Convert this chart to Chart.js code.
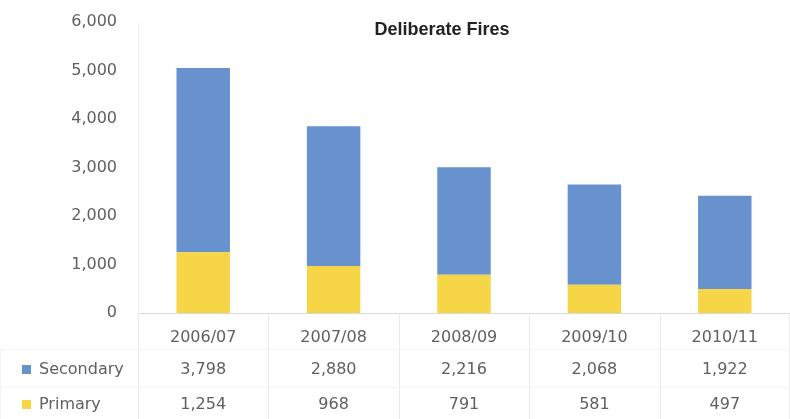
<!DOCTYPE html>
<html>
<head>
<meta charset="utf-8">
<script src="https://cdn.jsdelivr.net/npm/chart.js@4/dist/chart.umd.min.js"></script>
<style>
html,body{margin:0;padding:0;background:#fff;}
#wrap{width:790px;height:419px;position:relative;}
</style>
</head>
<body>
<div id="wrap"><canvas id="c" width="790" height="419"></canvas></div>
<script>
const categories = ["2006/07", "2007/08", "2008/09", "2009/10", "2010/11"];
const primary = [1254, 968, 791, 581, 497];
const secondary = [3798, 2880, 2216, 2068, 1922];
const seriesNames = ["Secondary", "Primary"];
const yTicks = [0, 1000, 2000, 3000, 4000, 5000, 6000];
const chartTitle = "Deliberate Fires";

const BLUE = "#6792cd";
const YELLOW = "#f6d646";
const TEXT = "#606060";
const FONT = "'DejaVu Sans', sans-serif";
const fmt = v => v.toLocaleString("en-US");

const tablePlugin = {
  id: "dataTable",
  afterDraw(chart) {
    const ctx = chart.ctx;
    const x = chart.scales.x;
    const area = chart.chartArea;
    const rowH = [349, 387];
    const half = (x.getPixelForValue(1) - x.getPixelForValue(0)) / 2;
    ctx.save();
    ctx.strokeStyle = "#eaeaea";
    ctx.lineWidth = 1;
    for (let i = 0; i <= categories.length; i++) {
      const px = Math.round(i === categories.length ? area.right - 1 : x.getPixelForValue(i) - half) + 0.5;
      ctx.beginPath();
      ctx.moveTo(px, area.bottom);
      ctx.lineTo(px, 419);
      ctx.stroke();
    }
    ctx.strokeStyle = "#f3f3f3";
    ctx.beginPath();
    ctx.moveTo(0.5, rowH[0]); ctx.lineTo(0.5, 419); ctx.stroke();
    rowH.forEach(y => {
      ctx.beginPath();
      ctx.moveTo(0, y + 0.5);
      ctx.lineTo(area.right, y + 0.5);
      ctx.stroke();
    });
    const rows = [
      {name: seriesNames[0], color: BLUE, vals: secondary, y: 370},
      {name: seriesNames[1], color: YELLOW, vals: primary, y: 405}
    ];
    ctx.font = "16px " + FONT;
    ctx.textBaseline = "middle";
    rows.forEach(r => {
      ctx.fillStyle = r.color;
      ctx.fillRect(22, r.y - 5, 9, 9);
      ctx.fillStyle = TEXT;
      ctx.textAlign = "left";
      ctx.fillText(r.name, 39, r.y);
      ctx.textAlign = "center";
      r.vals.forEach((v, i) => {
        ctx.fillText(fmt(v), x.getPixelForValue(i), r.y);
      });
    });
    ctx.font = "bold 18px 'Liberation Sans', Arial, sans-serif";
    ctx.fillStyle = "#222";
    ctx.textAlign = "center";
    ctx.fillText(chartTitle, 442, 30);
    ctx.restore();
  }
};

new Chart(document.getElementById("c"), {
  type: "bar",
  data: {
    labels: categories,
    datasets: [
      {label: seriesNames[1], data: primary, backgroundColor: YELLOW, borderWidth: 0},
      {label: seriesNames[0], data: secondary, backgroundColor: BLUE, borderWidth: 0}
    ]
  },
  options: {
    responsive: false,
    animation: false,
    devicePixelRatio: 1,
    layout: {padding: {top: 22, right: 0, left: 0, bottom: 0}},
    plugins: {legend: {display: false}, tooltip: {enabled: false}, title: {display: false}},
    datasets: {bar: {categoryPercentage: 1.0, barPercentage: 0.41}},
    scales: {
      x: {
        stacked: true,
        grid: {display: false, drawTicks: false},
        border: {display: true, color: "#d9d9d9"},
        ticks: {color: TEXT, font: {family: FONT, size: 16}, padding: 15, maxRotation: 0},
        afterFit(s) { s.height = 106; s.paddingLeft = 0; s.paddingRight = 0; }
      },
      y: {
        stacked: true,
        min: 0, max: 6000,
        afterBuildTicks(s) { s.ticks = yTicks.map(v => ({value: v})); },
        grid: {display: false, drawTicks: false},
        border: {display: true, color: "#f0f0f0"},
        ticks: {color: TEXT, font: {family: FONT, size: 16}, padding: 21, callback: v => fmt(v)},
        afterFit(s) { s.width = 138; s.paddingTop = 0; s.paddingBottom = 0; }
      }
    }
  },
  plugins: [tablePlugin]
});
</script>
</body>
</html>
